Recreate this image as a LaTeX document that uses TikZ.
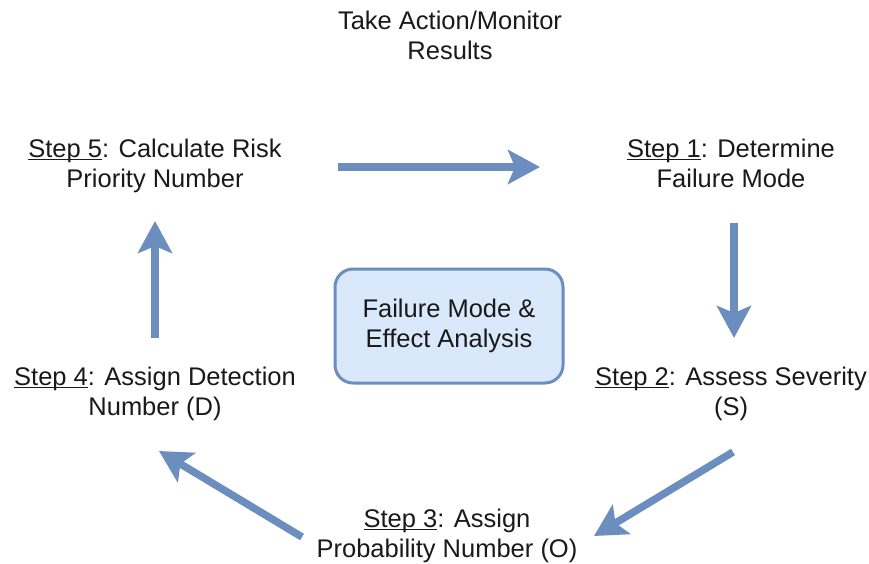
\documentclass[tikz,border=0pt]{standalone}
\usepackage{fontspec}
\setmainfont{Liberation Sans}
\usetikzlibrary{arrows.meta}
\definecolor{flowblue}{HTML}{6C8EBF}
\definecolor{boxfill}{HTML}{DAE8FC}
% underline drawn as a thin rule just below the baseline
\newcommand{\stepul}[1]{\setbox0\hbox{#1}\rlap{\rule[-3pt]{\wd0}{1.3pt}}\box0}
\tikzset{
  label text/.style={align=center, inner sep=0pt, font=\fontsize{25.5}{30}\selectfont, text=black!90},
  flow/.style={draw=flowblue, line width=7.5pt,
    -{Stealth[length=32pt, width=34pt, inset=7pt]}},
  corebox/.style={draw=flowblue, fill=boxfill, line width=3pt, rounded corners=18pt,
    minimum width=228pt, minimum height=114pt, align=center, inner sep=0pt,
    font=\fontsize{25.5}{30}\selectfont, text=black!90},
}
\begin{document}
\begin{tikzpicture}[x=1pt, y=-1pt]
  \useasboundingbox (0,0) rectangle (869,564);
  % headline
  \node[label text] (top) at (450,39) {\strut Take Action/Monitor\\\strut Results};
  % the five steps around the cycle
  \node[label text] (s5) at (155,166) {\strut\stepul{Step 5}: Calculate Risk\\\strut Priority Number};
  \node[label text] (s1) at (731,166) {\strut\stepul{Step 1}: Determine\\\strut Failure Mode};
  \node[label text] (s2) at (731,394) {\strut\stepul{Step 2}: Assess Severity\\\strut (S)};
  \node[label text] (s3) at (447,536) {\strut\stepul{Step 3}: Assign\\\strut Probability Number (O)};
  \node[label text] (s4) at (155,394) {\strut\stepul{Step 4}: Assign Detection\\\strut Number (D)};
  % centre box
  \node[corebox] (fmea) at (449,326) {\strut Failure Mode \&\\\strut Effect Analysis};
  % arrow end points
  \coordinate (a1s) at (338,167);
  \coordinate (a1e) at (540,167);
  \coordinate (a2s) at (734,223);
  \coordinate (a2e) at (734,338);
  \coordinate (a3s) at (733,452);
  \coordinate (a3e) at (594,536);
  \coordinate (a4s) at (302,537);
  \coordinate (a4e) at (159,451);
  \coordinate (a5s) at (155,338);
  \coordinate (a5e) at (155,221);
  % cycle arrows
  \draw[flow] (a1s) -- (a1e);
  \draw[flow] (a2s) -- (a2e);
  \draw[flow] (a3s) -- (a3e);
  \draw[flow] (a4s) -- (a4e);
  \draw[flow] (a5s) -- (a5e);
\end{tikzpicture}
\end{document}
